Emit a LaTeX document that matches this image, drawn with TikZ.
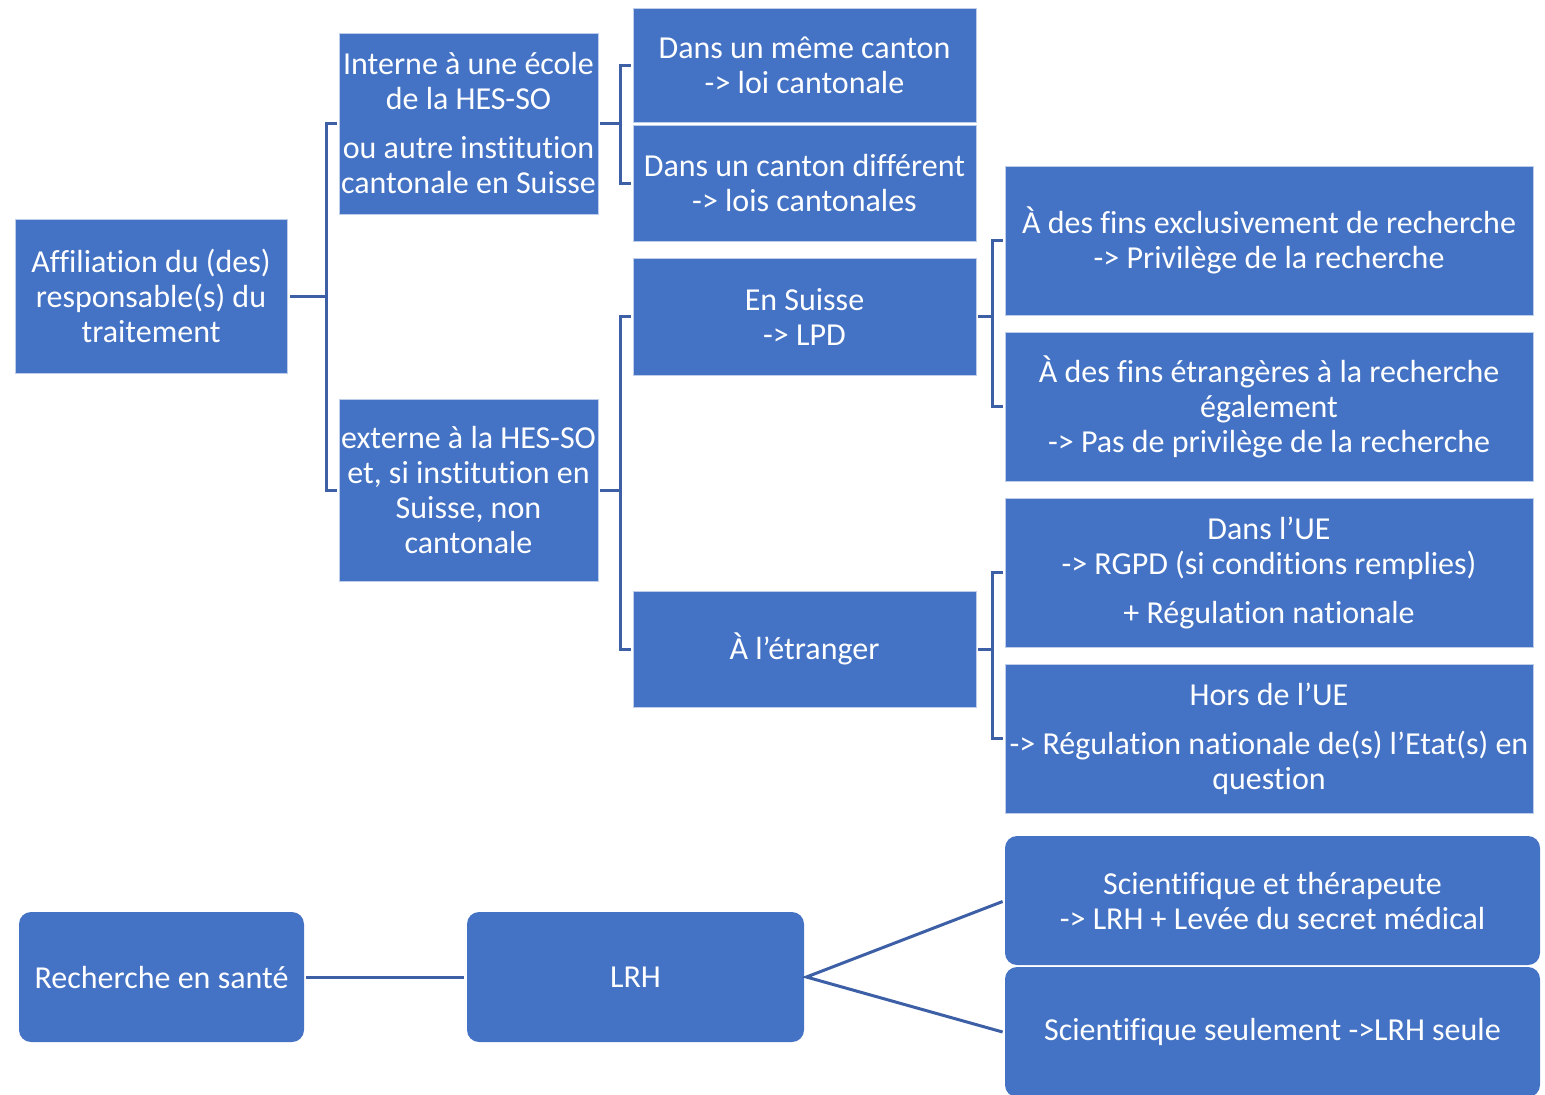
\documentclass[tikz,border=0pt]{standalone}
\usepackage{fontspec}
\setmainfont{Carlito}[Ligatures=NoCommon]
\usetikzlibrary{calc}
\definecolor{boxblue}{HTML}{4472C4}
\definecolor{linkblue}{HTML}{3C5FA6}
\tikzset{
  box/.style={rectangle, fill=boxblue, draw=white!65!boxblue, line width=0.8pt, text=white,
    align=center, inner sep=0pt, font=\fontsize{32}{35}\selectfont},
  rbox/.style={box, draw=none, rounded corners=12pt},
  conn/.style={draw=linkblue, line width=3pt},
}
\begin{document}
\begin{tikzpicture}[x=1pt,y=-1pt]
\useasboundingbox (0,0) rectangle (1545,1095);
\node[box, minimum width=272, minimum height=154] (aff) at (151,296) {Affiliation du (des)\\responsable(s) du\\traitement};
\node[box, minimum width=259, minimum height=181] (int) at (468.5,123.5) {Interne à une école\\de la HES-SO\\[14pt]ou autre institution\\cantonale en Suisse};
\node[box, minimum width=259, minimum height=182] (ext) at (468.5,490) {externe à la HES-SO\\et, si institution en\\Suisse, non\\cantonale};
\node[box, minimum width=343, minimum height=114] (mem) at (804.5,65) {Dans un même canton\\-> loi cantonale};
\node[box, minimum width=343, minimum height=116] (dif) at (804.5,183) {Dans un canton différent\\-> lois cantonales};
\node[box, minimum width=343, minimum height=117] (sui) at (804.5,316.5) {En Suisse\\-> LPD};
\node[box, minimum width=343, minimum height=116] (etr) at (804.5,649) {À l’étranger};
\node[box, minimum width=528, minimum height=149] (exc) at (1269,240.5) {À des fins exclusivement de recherche\\-> Privilège de la recherche};
\node[box, minimum width=528, minimum height=149] (etg) at (1269,406.5) {À des fins étrangères à la recherche\\également\\-> Pas de privilège de la recherche};
\node[box, minimum width=528, minimum height=149] (ue) at (1269,572.5) {Dans l’UE\\-> RGPD (si conditions remplies)\\[14pt]+ Régulation nationale};
\node[box, minimum width=528, minimum height=149] (hue) at (1269,738.5) {Hors de l’UE\\[14pt]-> Régulation nationale de(s) l’Etat(s) en\\question};
\node[rbox, minimum width=535, minimum height=129] (sth) at (1272.5,900.5) {Scientifique et thérapeute\\-> LRH + Levée du secret médical};
\node[rbox, minimum width=535, minimum height=130] (ss) at (1272.5,1032) {Scientifique seulement ->LRH seule};
\node[rbox, minimum width=285, minimum height=130] (rs) at (161.5,977) {Recherche en santé};
\node[rbox, minimum width=337, minimum height=130] (lrh) at (635.5,977) {LRH};
% brackets
\coordinate (v1) at ($(int.west)+(-12,0)$);
\draw[conn] ($(aff.east)+(3,0)$) -- (v1 |- aff.east);
\draw[conn] ($(int.west)+(-2,0)$) -- (v1) -- (v1 |- ext.west) -- ($(ext.west)+(-2,0)$);
\coordinate (v2) at ($(mem.west)+(-12,0)$);
\draw[conn] ($(int.east)+(2,0)$) -- (v2 |- int.east);
\draw[conn] ($(mem.west)+(-2,0)$) -- (v2) -- (v2 |- dif.west) -- ($(dif.west)+(-2,0)$);
\coordinate (v3) at ($(sui.west)+(-12,0)$);
\draw[conn] ($(ext.east)+(2,0)$) -- (v3 |- ext.east);
\draw[conn] ($(sui.west)+(-2,0)$) -- (v3) -- (v3 |- etr.west) -- ($(etr.west)+(-2,0)$);
\coordinate (v4) at ($(exc.west)+(-12,0)$);
\draw[conn] ($(sui.east)+(2,0)$) -- (v4 |- sui.east);
\draw[conn] ($(exc.west)+(-2,0)$) -- (v4) -- (v4 |- etg.west) -- ($(etg.west)+(-2,0)$);
\coordinate (v5) at ($(ue.west)+(-12,0)$);
\draw[conn] ($(etr.east)+(2,0)$) -- (v5 |- etr.east);
\draw[conn] ($(ue.west)+(-2,0)$) -- (v5) -- (v5 |- hue.west) -- ($(hue.west)+(-2,0)$);
% bottom
\draw[conn] ($(rs.east)+(2,0)$) -- ($(lrh.west)+(-3,0)$);
\draw[conn] ($(sth.west)+(-2,1)$) -- ($(lrh.east)+(2,0)$) -- ($(ss.west)+(-2,0)$);
\end{tikzpicture}
\end{document}
